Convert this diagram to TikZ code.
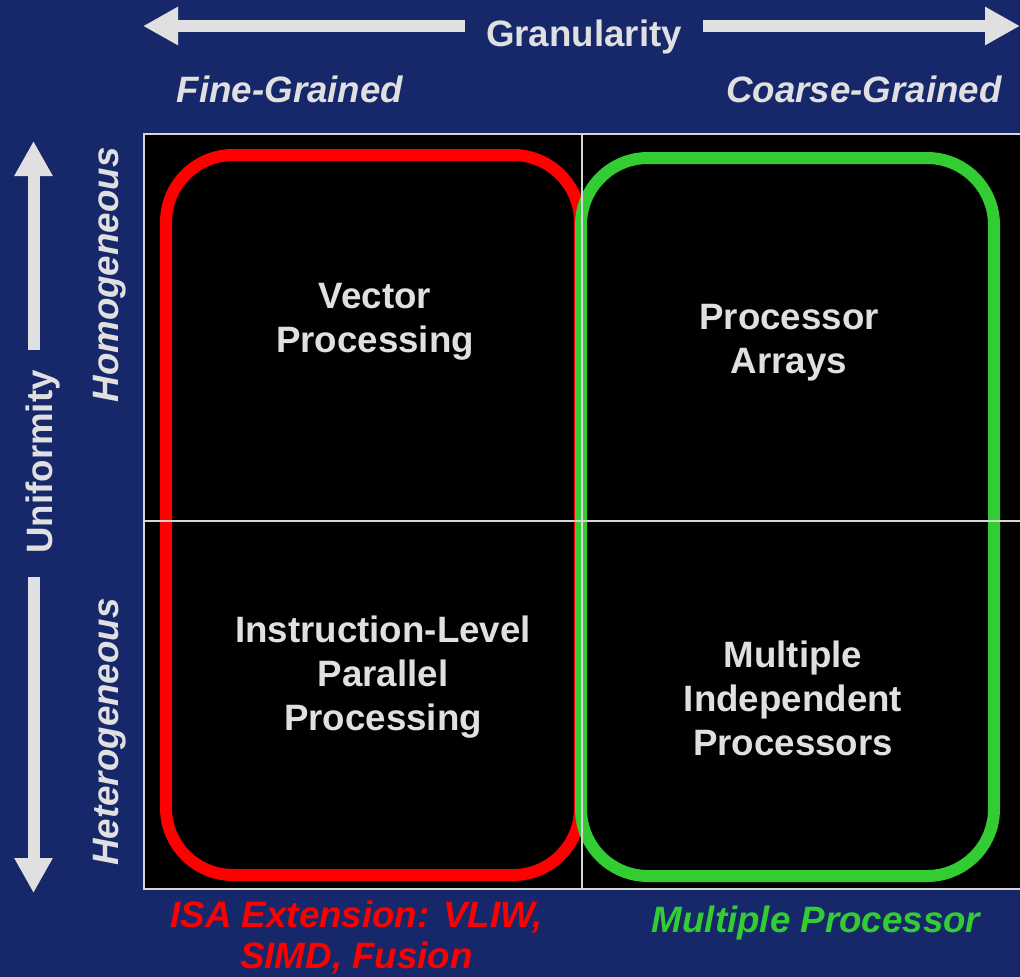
\documentclass[tikz,border=0pt]{standalone}
\usepackage{fontspec}
\setmainfont{Liberation Sans}
\usetikzlibrary{arrows.meta}
\definecolor{navy}{HTML}{16286A}
\definecolor{lgray}{HTML}{E0E0E0}
\definecolor{gridgray}{HTML}{D6D6D6}
\definecolor{isared}{HTML}{FF0000}
\definecolor{mpgreen}{HTML}{33CC33}
\begin{document}
\begin{tikzpicture}[x=1pt,y=-1pt,
  lbl/.style={font=\fontsize{36.7}{44}\selectfont\bfseries, text=lgray, inner sep=0pt, align=center},
  ilbl/.style={lbl, font=\fontsize{36.7}{44}\selectfont\bfseries\itshape},
  axisarrow/.style={draw=lgray, line width=12pt, -{Triangle[length=35pt,width=36pt]}, fill=lgray},
  gridline/.style={draw=gridgray, line width=2.5pt},
  groupbox/.style={line width=12pt, rounded corners=67pt}
]
\useasboundingbox (0,0) rectangle (1020,977);
\fill[navy] (0,0) rectangle (1020,977);

% grid background
\fill[black] (144,134) rectangle (1022,889);

% groupings
\draw[groupbox, isared] (166,155) rectangle (580,875);
\draw[groupbox, mpgreen] (581,158) rectangle (994,876);

% grid lines
\coordinate (vt) at (582,134);
\coordinate (vb) at (582,889);
\coordinate (hl) at (144,521);
\coordinate (hr) at (1022,521);
\draw[gridline] (vt) -- (vb);
\draw[gridline] (hl) -- (hr);
\draw[gridline] (1023,134) -- (144,134) -- (144,889) -- (1023,889);

% axis labels
\node[lbl, anchor=base] (gran) at (584,46) {Granularity};
\node[ilbl, anchor=base] (fine) at (290,102) {Fine-Grained};
\node[ilbl, anchor=base] (coarse) at (864,102) {Coarse-Grained};
\node[lbl, anchor=base, rotate=90] (unif) at (52,462) {Uniformity};
\node[ilbl, anchor=base, rotate=90] (homo) at (118,275) {Homogeneous};
\node[ilbl, anchor=base, rotate=90] (hetero) at (118,732) {Heterogeneous};

% axis arrows
\coordinate (gls) at (465,26);
\coordinate (glt) at (143,26);
\coordinate (grs) at (703,26);
\coordinate (grt) at (1020,26);
\coordinate (uus) at (33.5,350);
\coordinate (uut) at (33.5,141);
\coordinate (uds) at (33.5,577);
\coordinate (udt) at (33.5,893);
\draw[axisarrow] (gls) -- (glt);
\draw[axisarrow] (grs) -- (grt);
\draw[axisarrow] (uus) -- (uut);
\draw[axisarrow] (uds) -- (udt);

% cells
\node[lbl] (vec) at (375,322) {Vector\\Processing};
\node[lbl] (parr) at (789,343) {Processor\\Arrays};
\node[lbl] (ilp) at (383,677) {Instruction-Level\\Parallel\\Processing};
\node[lbl] (mip) at (793,698) {Multiple\\Independent\\Processors};

% group captions
\node[ilbl, text=isared, font=\fontsize{36.7}{41}\selectfont\bfseries\itshape] (isa) at (356.5,938) {ISA Extension: VLIW,\\SIMD, Fusion};
\node[ilbl, text=mpgreen, anchor=base] (mp) at (816,932) {Multiple Processor};
\end{tikzpicture}
\end{document}
